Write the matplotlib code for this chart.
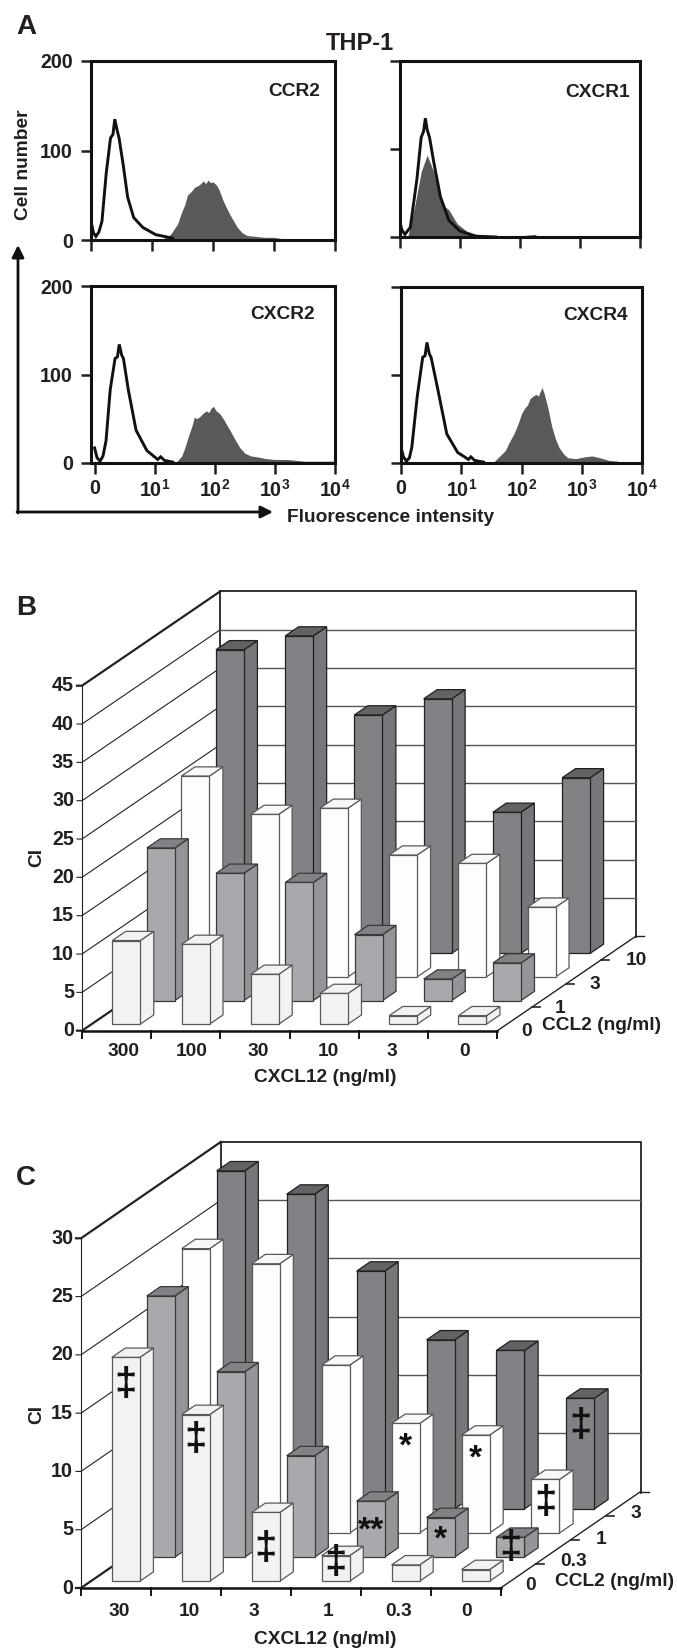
import matplotlib
matplotlib.use('Agg')
import matplotlib.pyplot as plt
from matplotlib.patches import Polygon

plt.rcParams['font.family'] = ['Liberation Sans', 'DejaVu Sans']
plt.rcParams['font.weight'] = 'bold'
plt.rcParams['mathtext.fontset'] = 'custom'
plt.rcParams['mathtext.bf'] = 'Liberation Sans:bold'
plt.rcParams['mathtext.rm'] = 'Liberation Sans:bold'

W, H = 677, 1648
TXT = '#231f20'
LABEL = 13.8
TICK = 14.2

# ------------------ panel A, histograms ------------------
ccr2_iso_x = [0, .04, .08, .13, .18, .25, .32, .36, .39, .43, .46, .53, .6, .7, .85, 1.06, 1.34]
ccr2_iso_y = [21, 8, 4, 9, 21, 75, 114, 118, 135, 122, 114, 83, 48, 25, 14, 6, 2]
ccr2_x = [1.2, 1.3, 1.36, 1.42, 1.48, 1.54, 1.58, 1.64, 1.7, 1.76, 1.8, 1.84, 1.88, 1.92, 1.96,
          2.0, 2.06, 2.1, 2.16, 2.22, 2.28, 2.34, 2.4, 2.48, 2.56, 2.7, 2.85, 3.0, 3.17]
ccr2_y = [2, 6, 12, 18, 30, 40, 50, 54, 59, 61, 63, 66, 63, 67, 64,
          65, 61, 56, 45, 36, 28, 21, 14, 8, 5, 4, 3, 3, 1]

cxcr1_iso_x = [0, .04, .09, .18, .29, .36, .4, .43, .46, .5, .57, .68, .82, 1.0, 1.25, 1.6]
cxcr1_iso_y = [19, 8, 3, 11, 66, 113, 120, 135, 122, 113, 85, 46, 19, 7, 1, 0]
cxcr1_x = [.14, .25, .36, .46, .57, .68, .76, .82, .96, 1.11, 1.32, 1.96, 2.25, 2.3, 2.43, 2.6]
cxcr1_y = [1, 34, 74, 93, 74, 42, 34, 31, 15, 7, 2, 1, 3, 1, 1, 0]

cxcr2_iso_x = [0, .04, .09, .14, .19, .26, .34, .38, .41, .45, .48, .56, .69, .87, 1.05, 1.1, 1.16, 1.3]
cxcr2_iso_y = [17, 6, 2, 8, 25, 83, 118, 120, 134, 122, 118, 83, 37, 14, 4, 7, 3, 1]
cxcr2_x = [1.37, 1.45, 1.5, 1.56, 1.62, 1.66, 1.7, 1.76, 1.8, 1.86, 1.9, 1.94, 1.98, 2.02, 2.08,
           2.14, 2.2, 2.26, 2.34, 2.42, 2.5, 2.6, 2.7, 2.85, 3.0, 3.2, 3.5, 3.8, 4]
cxcr2_y = [2, 8, 17, 30, 42, 52, 50, 53, 56, 59, 57, 62, 64, 59, 56,
           50, 43, 36, 26, 17, 11, 8, 7, 5, 4, 4, 2, 2, 2]

cxcr4_iso_x = [0, .04, .09, .14, .18, .27, .36, .4, .43, .47, .5, .61, .76, .94, 1.12, 1.16, 1.22, 1.37]
cxcr4_iso_y = [18, 7, 2, 6, 18, 76, 120, 122, 137, 124, 120, 84, 33, 12, 4, 7, 3, 1]
cxcr4_x = [1.55, 1.64, 1.73, 1.8, 1.88, 1.94, 2.0, 2.05, 2.1, 2.14, 2.19, 2.24, 2.28, 2.34, 2.38,
           2.44, 2.5, 2.56, 2.62, 2.7, 2.77, 2.9, 3.05, 3.17, 3.3, 3.45, 3.6]
cxcr4_y = [2, 8, 14, 24, 34, 44, 56, 62, 66, 73, 76, 78, 76, 86, 78,
           62, 42, 28, 18, 10, 6, 5, 7, 8, 6, 3, 2]

decade_ticks = [0, 1, 2, 3, 4]
decade_labels = ['0', r'$\mathbf{10^{1}}$', r'$\mathbf{10^{2}}$', r'$\mathbf{10^{3}}$', r'$\mathbf{10^{4}}$']
count_ticks = [0, 100, 200]

# ------------------ panel B ------------------
b_cxcl12 = ['300', '100', '30', '10', '3', '0']
b_ccl2 = ['0', '1', '3', '10']
b_ccl2_0 = [10.9, 10.4, 6.5, 4.0, 1.1, 1.1]
b_ccl2_1 = [19.9, 16.6, 15.4, 8.6, 2.8, 4.9]
b_ccl2_3 = [26.2, 21.2, 22.0, 15.9, 14.8, 9.1]
b_ccl2_10 = [39.6, 41.4, 31.1, 33.2, 18.4, 22.9]
b_ticks = [0, 5, 10, 15, 20, 25, 30, 35, 40, 45]

# ------------------ panel C ------------------
c_cxcl12 = ['30', '10', '3', '1', '0.3', '0']
c_ccl2 = ['0', '0.3', '1', '3']
c_ccl2_0 = [19.2, 14.3, 5.9, 2.2, 1.4, 1.0]
c_ccl2_03 = [22.4, 15.9, 8.7, 4.8, 3.4, 1.7]
c_ccl2_1 = [24.4, 23.1, 14.4, 9.4, 8.4, 4.6]
c_ccl2_3 = [29.0, 27.0, 20.4, 14.5, 13.6, 9.5]
c_ticks = [0, 5, 10, 15, 20, 25, 30]
# significance marks: (CXCL12 index, CCL2 index, CI height of the mark, text)
c_marks = [(0, 0, 16.8, '‡'), (1, 0, 12.1, '‡'), (2, 0, 2.8, '‡'), (3, 0, 1.6, '‡'),
           (3, 1, 2.5, '**'), (4, 1, 1.7, '*'), (5, 1, 0.8, '‡'),
           (3, 2, 7.6, '*'), (4, 2, 6.6, '*'), (5, 2, 2.6, '‡'), (5, 3, 7.1, '‡')]

# face colours per depth row: front, side, top, edge
ROW_STYLES = [
    ('#f1f2f2', '#f1f2f2', '#f1f2f2', '#58595b'),
    ('#a7a9ac', '#939598', '#808285', '#3a3a3c'),
    ('#fdfdfd', '#ffffff', '#f8f8f8', '#58595b'),
    ('#808285', '#76777a', '#626366', '#231f20'),
]

fig = plt.figure(figsize=(W / 100, H / 100), dpi=100)
ax = fig.add_axes([0, 0, 1, 1])
ax.set_xlim(0, W)
ax.set_ylim(H, 0)
ax.axis('off')


def histo(box, iso_x, iso_y, x, y, name, name_xy, xlabels, ylabels, xmin=0.0):
    left, top, right, bottom = box
    a = fig.add_axes([left / W, 1 - bottom / H, (right - left) / W, (bottom - top) / H])
    a.patch.set_alpha(0)
    a.fill_between(x, y, 0, color='#58595b', lw=0)
    a.plot(iso_x, iso_y, color='#111111', lw=2.1, solid_joinstyle='miter')
    a.set_xlim(xmin, 4)
    a.set_ylim(0, 200)
    a.set_xticks(decade_ticks)
    a.set_yticks(count_ticks)
    a.set_xticklabels(decade_labels if xlabels else [])
    a.set_yticklabels(count_ticks if ylabels else [])
    a.tick_params(axis='x', length=7.8, width=1.8, pad=4, labelsize=TICK, colors=TXT)
    a.tick_params(axis='y', length=7.2, width=1.8, pad=6, labelsize=TICK, colors=TXT)
    for s in a.spines.values():
        s.set_linewidth(2.2)
        s.set_color('#111111')
    ax.text(name_xy[0], name_xy[1], name, ha='center', va='center', fontsize=LABEL, color=TXT)


histo((91, 61, 335, 240), ccr2_iso_x, ccr2_iso_y, ccr2_x, ccr2_y, 'CCR2', (294, 91), False, True)
histo((399.5, 61, 640, 237), cxcr1_iso_x, cxcr1_iso_y, cxcr1_x, cxcr1_y, 'CXCR1', (598, 92), False, False)
histo((91, 286, 335, 463), cxcr2_iso_x, cxcr2_iso_y, cxcr2_x, cxcr2_y, 'CXCR2', (283, 314), True, True, xmin=-0.06)
histo((401, 287, 642, 463), cxcr4_iso_x, cxcr4_iso_y, cxcr4_x, cxcr4_y, 'CXCR4', (596, 315), True, False)

# L shaped axis arrows of panel A
ax.annotate('', xy=(18, 245), xytext=(18, 513),
            arrowprops=dict(arrowstyle='-|>', color='#111111', lw=2.0, mutation_scale=18, shrinkA=0, shrinkB=0))
ax.annotate('', xy=(273, 512), xytext=(17, 512),
            arrowprops=dict(arrowstyle='-|>', color='#111111', lw=2.0, mutation_scale=18, shrinkA=0, shrinkB=0))
ax.text(391, 517, 'Fluorescence intensity', ha='center', va='center', fontsize=LABEL, color=TXT)
ax.text(24, 165, 'Cell number', ha='center', va='center', rotation=90, fontsize=LABEL, color=TXT)
ax.text(360, 43, 'THP-1', ha='center', va='center', fontsize=17, color=TXT)
ax.text(26, 27, 'A', ha='center', va='center', fontsize=20, color=TXT)


def bars3d(geo, rows, ticks, marks=()):
    x0, y0, width, depth_dx, depth_dy, px_per_ci = geo
    top_ci = ticks[-1]
    wall_h = top_ci * px_per_ci

    def proj(cat, d, ci=0.0):
        return (x0 + cat * width / 6 + d * depth_dx, y0 - d * depth_dy - ci * px_per_ci)

    # back wall and left wall
    bx, by = x0 + depth_dx, y0 - depth_dy
    ax.plot([bx, bx + width, bx + width], [by - wall_h, by - wall_h, by + 1], color='#111111', lw=1.2)
    ax.plot([bx, bx], [by - wall_h, by], color='#111111', lw=1.2)
    ax.plot([x0, x0], [y0, y0 - wall_h], color='#222222', lw=0.8)
    for t in ticks:
        yt = y0 - t * px_per_ci
        lw = 1.6 if t in (ticks[0], ticks[-1]) else 0.8
        ax.plot([x0 - 5, x0, bx], [yt, yt, yt - depth_dy], color='#222222', lw=lw)
        if t not in (ticks[0], ticks[-1]):
            ax.plot([bx, bx + width], [yt - depth_dy] * 2, color='#555555', lw=1.0)
        ax.text(x0 - 8, yt, str(t), ha='right', va='center', fontsize=TICK, color=TXT)

    # floor edges and ticks
    ax.plot([x0, x0 + width], [y0, y0], color='#111111', lw=1.8)
    ax.plot([x0 + width, bx + width], [y0, by], color='#222222', lw=1.0)
    ax.plot([bx + width, bx + width + 8], [by, by], color='#222222', lw=1.0)
    for i in range(7):
        tx = x0 + i * width / 6
        ax.plot([tx, tx], [y0, y0 + 7], color='#111111', lw=1.4)
    for i in range(1, 4):
        tx, ty = proj(6, i / 4)
        ax.plot([tx, tx + 8], [ty, ty], color='#222222', lw=1.2)

    # bars from the back row to the front row
    bar_w = 28.0
    margin = (width / 6 - bar_w) / 2
    side = 0.0975
    z = 3
    for d in range(3, -1, -1):
        front, sidec, topc, edge = ROW_STYLES[d]
        frac = (d + 0.28) / 4
        for c, val in enumerate(rows[d]):
            xl, yb = proj(c, frac)
            xl += margin
            xr = xl + bar_w
            yt = yb - val * px_per_ci
            dx, dy = side * depth_dx, side * depth_dy
            ax.add_patch(Polygon([(xr, yb), (xr + dx, yb - dy), (xr + dx, yt - dy), (xr, yt)],
                                 fc=sidec, ec=edge, lw=0.9, joinstyle='miter', zorder=z))
            ax.add_patch(Polygon([(xl, yt), (xr, yt), (xr + dx, yt - dy), (xl + dx, yt - dy)],
                                 fc=topc, ec=edge, lw=0.9, joinstyle='miter', zorder=z))
            ax.add_patch(Polygon([(xl, yb), (xr, yb), (xr, yt), (xl, yt)],
                                 fc=front, ec=edge, lw=0.9, joinstyle='miter', zorder=z))
        for c, dm, ci, s in marks:
            if dm == d:
                mx, my = proj(c, frac, ci)
                size = 29 if s == '‡' else 24
                ax.text(mx + margin + bar_w / 2, my + (0 if s == '‡' else 3), s, ha='center', va='center',
                        fontsize=size, fontweight='bold', color='#111111', zorder=z + 0.5)
        z += 1


b_geo = (82.0, 1030.7, 415.4, 138.2, 94.3, 345.0 / 45)
bars3d(b_geo, [b_ccl2_0, b_ccl2_1, b_ccl2_3, b_ccl2_10], b_ticks)
for s, x in zip(b_cxcl12, [123, 192, 258, 328, 392, 465]):
    ax.text(x, 1052, s, ha='center', va='center', fontsize=LABEL, color=TXT)
for s, x, y in zip(b_ccl2, [527, 560, 595, 636], [1032, 1008, 984, 960]):
    ax.text(x, y, s, ha='center', va='center', fontsize=LABEL, color=TXT)
ax.text(325, 1077, 'CXCL12 (ng/ml)', ha='center', va='center', fontsize=LABEL, color=TXT)
ax.text(602, 1026, 'CCL2 (ng/ml)', ha='center', va='center', fontsize=LABEL, color=TXT)
ax.text(37, 857, 'CI', ha='center', va='center', rotation=90, fontsize=LABEL, color=TXT)
ax.text(26, 608, 'B', ha='center', va='center', fontsize=20, color=TXT)

c_geo = (81.0, 1588.0, 419.7, 139.9, 96.4, 349.7 / 30)
bars3d(c_geo, [c_ccl2_0, c_ccl2_03, c_ccl2_1, c_ccl2_3], c_ticks, c_marks)
for s, x in zip(c_cxcl12, [119, 189, 254, 328, 399, 467]):
    ax.text(x, 1611, s, ha='center', va='center', fontsize=LABEL, color=TXT)
for s, x, y in zip(c_ccl2, [531, 574, 601, 636], [1586, 1562, 1539, 1514]):
    ax.text(x, y, s, ha='center', va='center', fontsize=LABEL, color=TXT)
ax.text(325, 1639, 'CXCL12 (ng/ml)', ha='center', va='center', fontsize=LABEL, color=TXT)
ax.text(615, 1581, 'CCL2 (ng/ml)', ha='center', va='center', fontsize=LABEL, color=TXT)
ax.text(37, 1414, 'CI', ha='center', va='center', rotation=90, fontsize=LABEL, color=TXT)
ax.text(26, 1178, 'C', ha='center', va='center', fontsize=20, color=TXT)

fig.savefig('out.png', dpi=100)
